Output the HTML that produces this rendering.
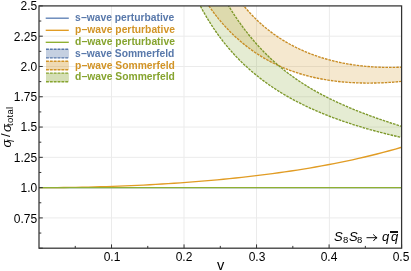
<!DOCTYPE html><html><head><meta charset="utf-8"><style>html,body{margin:0;padding:0;background:#fff}
body{width:411px;height:271px;position:relative;overflow:hidden;font-family:"Liberation Sans",sans-serif;color:#000}
.t{position:absolute;white-space:nowrap;line-height:1;will-change:transform}
.yl{font-size:12px;text-align:right;width:37.2px;left:0}
.xl{font-size:12px;text-align:center;width:40px}
.lg{font-size:10.3px;font-weight:bold;left:75.2px}
</style></head><body><svg width="411" height="271" viewBox="0 0 411 271" style="position:absolute;left:0;top:0"><defs><clipPath id="c"><rect x="39.0" y="5.9" width="362.6" height="242.29999999999998"/></clipPath></defs><g stroke="#ebebeb" stroke-width="1" fill="none"><line x1="111.5" x2="111.5" y1="5.9" y2="248.2"/><line x1="184.0" x2="184.0" y1="5.9" y2="248.2"/><line x1="256.5" x2="256.5" y1="5.9" y2="248.2"/><line x1="329.4" x2="329.4" y1="5.9" y2="248.2"/><line x1="39.0" x2="401.6" y1="217.91" y2="217.91"/><line x1="39.0" x2="401.6" y1="187.62" y2="187.62"/><line x1="39.0" x2="401.6" y1="157.34" y2="157.34"/><line x1="39.0" x2="401.6" y1="127.05" y2="127.05"/><line x1="39.0" x2="401.6" y1="96.76" y2="96.76"/><line x1="39.0" x2="401.6" y1="66.47" y2="66.47"/><line x1="39.0" x2="401.6" y1="36.19" y2="36.19"/></g><g clip-path="url(#c)" fill="none"><path d="M201.00,-6.26 L203.54,-2.14 L206.08,1.79 L208.62,5.55 L211.16,9.15 L213.70,12.60 L216.24,15.90 L218.77,19.06 L221.31,22.09 L223.85,25.00 L226.39,27.78 L228.93,30.46 L231.47,33.02 L234.01,35.48 L236.55,37.84 L239.09,40.11 L241.63,42.29 L244.17,44.38 L246.71,46.38 L249.25,48.31 L251.78,50.16 L254.32,51.93 L256.86,53.63 L259.40,55.27 L261.94,56.84 L264.48,58.34 L267.02,59.78 L269.56,61.17 L272.10,62.49 L274.64,63.76 L277.18,64.98 L279.72,66.14 L282.26,67.25 L284.79,68.31 L287.33,69.33 L289.87,70.30 L292.41,71.22 L294.95,72.10 L297.49,72.94 L300.03,73.74 L302.57,74.50 L305.11,75.22 L307.65,75.90 L310.19,76.54 L312.73,77.15 L315.27,77.73 L317.81,78.27 L320.34,78.77 L322.88,79.25 L325.42,79.69 L327.96,80.10 L330.50,80.49 L333.04,80.84 L335.58,81.16 L338.12,81.46 L340.66,81.73 L343.20,81.97 L345.74,82.19 L348.28,82.38 L350.82,82.55 L353.35,82.70 L355.89,82.82 L358.43,82.91 L360.97,82.99 L363.51,83.04 L366.05,83.07 L368.59,83.08 L371.13,83.06 L373.67,83.03 L376.21,82.98 L378.75,82.91 L381.29,82.82 L383.83,82.71 L386.36,82.58 L388.90,82.43 L391.44,82.27 L393.98,82.09 L396.52,81.89 L399.06,81.67 L401.60,81.44 L401.60,67.15 L399.50,67.23 L397.40,67.29 L395.30,67.34 L393.21,67.37 L391.11,67.39 L389.01,67.40 L386.91,67.39 L384.81,67.36 L382.71,67.31 L380.61,67.25 L378.51,67.17 L376.42,67.08 L374.32,66.97 L372.22,66.84 L370.12,66.69 L368.02,66.53 L365.92,66.34 L363.82,66.14 L361.72,65.92 L359.63,65.68 L357.53,65.43 L355.43,65.15 L353.33,64.85 L351.23,64.53 L349.13,64.19 L347.03,63.83 L344.93,63.45 L342.84,63.05 L340.74,62.63 L338.64,62.18 L336.54,61.71 L334.44,61.22 L332.34,60.70 L330.24,60.16 L328.14,59.60 L326.05,59.01 L323.95,58.39 L321.85,57.75 L319.75,57.08 L317.65,56.38 L315.55,55.65 L313.45,54.90 L311.35,54.12 L309.26,53.30 L307.16,52.46 L305.06,51.58 L302.96,50.67 L300.86,49.73 L298.76,48.75 L296.66,47.74 L294.56,46.69 L292.47,45.61 L290.37,44.48 L288.27,43.32 L286.17,42.11 L284.07,40.86 L281.97,39.57 L279.87,38.23 L277.77,36.84 L275.68,35.41 L273.58,33.92 L271.48,32.38 L269.38,30.79 L267.28,29.14 L265.18,27.43 L263.08,25.65 L260.98,23.81 L258.89,21.91 L256.79,19.93 L254.69,17.88 L252.59,15.75 L250.49,13.54 L248.39,11.24 L246.29,8.85 L244.19,6.37 L242.10,3.79 L240.00,1.10 L237.90,-1.70 L235.80,-4.62 Z" fill="#D29426" fill-opacity="0.22" stroke="none"/><path d="M192.50,-10.05 L195.15,-4.35 L197.79,1.05 L200.44,6.18 L203.09,11.06 L205.73,15.70 L208.38,20.13 L211.03,24.35 L213.67,28.39 L216.32,32.25 L218.97,35.94 L221.62,39.48 L224.26,42.88 L226.91,46.13 L229.56,49.27 L232.20,52.28 L234.85,55.18 L237.50,57.97 L240.14,60.66 L242.79,63.26 L245.44,65.76 L248.08,68.18 L250.73,70.52 L253.38,72.78 L256.02,74.97 L258.67,77.09 L261.32,79.14 L263.96,81.13 L266.61,83.06 L269.26,84.93 L271.91,86.75 L274.55,88.51 L277.20,90.23 L279.85,91.89 L282.49,93.51 L285.14,95.09 L287.79,96.62 L290.43,98.11 L293.08,99.56 L295.73,100.98 L298.37,102.36 L301.02,103.70 L303.67,105.01 L306.31,106.29 L308.96,107.53 L311.61,108.75 L314.25,109.94 L316.90,111.10 L319.55,112.23 L322.19,113.33 L324.84,114.41 L327.49,115.47 L330.14,116.50 L332.78,117.51 L335.43,118.49 L338.08,119.46 L340.72,120.40 L343.37,121.32 L346.02,122.23 L348.66,123.11 L351.31,123.97 L353.96,124.82 L356.60,125.65 L359.25,126.46 L361.90,127.26 L364.54,128.04 L367.19,128.80 L369.84,129.55 L372.48,130.28 L375.13,131.00 L377.78,131.70 L380.43,132.39 L383.07,133.07 L385.72,133.73 L388.37,134.38 L391.01,135.02 L393.66,135.64 L396.31,136.25 L398.95,136.86 L401.60,137.45 L401.60,126.42 L399.31,125.70 L397.02,124.97 L394.73,124.23 L392.44,123.49 L390.15,122.74 L387.86,121.98 L385.57,121.21 L383.28,120.43 L380.99,119.65 L378.70,118.85 L376.41,118.05 L374.12,117.23 L371.83,116.41 L369.54,115.57 L367.25,114.72 L364.96,113.86 L362.67,112.99 L360.38,112.10 L358.09,111.20 L355.80,110.29 L353.51,109.36 L351.22,108.42 L348.93,107.46 L346.64,106.48 L344.35,105.49 L342.06,104.47 L339.77,103.44 L337.48,102.39 L335.19,101.32 L332.90,100.23 L330.61,99.12 L328.32,97.99 L326.03,96.83 L323.74,95.64 L321.45,94.44 L319.16,93.20 L316.87,91.94 L314.58,90.65 L312.29,89.33 L310.01,87.97 L307.72,86.59 L305.43,85.17 L303.14,83.72 L300.85,82.23 L298.56,80.71 L296.27,79.14 L293.98,77.54 L291.69,75.89 L289.40,74.20 L287.11,72.46 L284.82,70.68 L282.53,68.85 L280.24,66.97 L277.95,65.03 L275.66,63.04 L273.37,61.00 L271.08,58.89 L268.79,56.73 L266.50,54.50 L264.21,52.20 L261.92,49.84 L259.63,47.40 L257.34,44.89 L255.05,42.30 L252.76,39.64 L250.47,36.89 L248.18,34.06 L245.89,31.13 L243.60,28.12 L241.31,25.01 L239.02,21.80 L236.73,18.49 L234.44,15.08 L232.15,11.55 L229.86,7.91 L227.57,4.16 L225.28,0.28 L222.99,-3.72 L220.70,-7.84 Z" fill="#86A42F" fill-opacity="0.21" stroke="none"/><line x1="39.0" x2="401.6" y1="187.62" y2="187.62" stroke="#5E81B5" stroke-width="1.3"/><path d="M39.00,187.62 L45.15,187.62 L51.29,187.59 L57.44,187.55 L63.58,187.49 L69.73,187.41 L75.87,187.31 L82.02,187.20 L88.17,187.07 L94.31,186.92 L100.46,186.75 L106.60,186.56 L112.75,186.36 L118.89,186.14 L125.04,185.90 L131.19,185.64 L137.33,185.36 L143.48,185.06 L149.62,184.74 L155.77,184.40 L161.92,184.04 L168.06,183.66 L174.21,183.26 L180.35,182.84 L186.50,182.40 L192.64,181.93 L198.79,181.44 L204.94,180.93 L211.08,180.40 L217.23,179.84 L223.37,179.25 L229.52,178.64 L235.66,178.01 L241.81,177.35 L247.96,176.66 L254.10,175.94 L260.25,175.19 L266.39,174.41 L272.54,173.61 L278.68,172.77 L284.83,171.90 L290.98,170.99 L297.12,170.05 L303.27,169.07 L309.41,168.06 L315.56,167.01 L321.71,165.91 L327.85,164.78 L334.00,163.60 L340.14,162.38 L346.29,161.11 L352.43,159.80 L358.58,158.43 L364.73,157.01 L370.87,155.53 L377.02,154.00 L383.16,152.41 L389.31,150.75 L395.45,149.03 L401.60,147.24" stroke="#E19C24" stroke-width="1.35"/><line x1="39.0" x2="401.6" y1="187.62" y2="187.62" stroke="#8FB032" stroke-width="1.4"/><path d="M201.00,-6.26 L203.54,-2.14 L206.08,1.79 L208.62,5.55 L211.16,9.15 L213.70,12.60 L216.24,15.90 L218.77,19.06 L221.31,22.09 L223.85,25.00 L226.39,27.78 L228.93,30.46 L231.47,33.02 L234.01,35.48 L236.55,37.84 L239.09,40.11 L241.63,42.29 L244.17,44.38 L246.71,46.38 L249.25,48.31 L251.78,50.16 L254.32,51.93 L256.86,53.63 L259.40,55.27 L261.94,56.84 L264.48,58.34 L267.02,59.78 L269.56,61.17 L272.10,62.49 L274.64,63.76 L277.18,64.98 L279.72,66.14 L282.26,67.25 L284.79,68.31 L287.33,69.33 L289.87,70.30 L292.41,71.22 L294.95,72.10 L297.49,72.94 L300.03,73.74 L302.57,74.50 L305.11,75.22 L307.65,75.90 L310.19,76.54 L312.73,77.15 L315.27,77.73 L317.81,78.27 L320.34,78.77 L322.88,79.25 L325.42,79.69 L327.96,80.10 L330.50,80.49 L333.04,80.84 L335.58,81.16 L338.12,81.46 L340.66,81.73 L343.20,81.97 L345.74,82.19 L348.28,82.38 L350.82,82.55 L353.35,82.70 L355.89,82.82 L358.43,82.91 L360.97,82.99 L363.51,83.04 L366.05,83.07 L368.59,83.08 L371.13,83.06 L373.67,83.03 L376.21,82.98 L378.75,82.91 L381.29,82.82 L383.83,82.71 L386.36,82.58 L388.90,82.43 L391.44,82.27 L393.98,82.09 L396.52,81.89 L399.06,81.67 L401.60,81.44" stroke="#C88C23" stroke-width="1.35" stroke-dasharray="2.6,1.0"/><path d="M235.80,-4.62 L237.90,-1.70 L240.00,1.10 L242.10,3.79 L244.19,6.37 L246.29,8.85 L248.39,11.24 L250.49,13.54 L252.59,15.75 L254.69,17.88 L256.79,19.93 L258.89,21.91 L260.98,23.81 L263.08,25.65 L265.18,27.43 L267.28,29.14 L269.38,30.79 L271.48,32.38 L273.58,33.92 L275.68,35.41 L277.77,36.84 L279.87,38.23 L281.97,39.57 L284.07,40.86 L286.17,42.11 L288.27,43.32 L290.37,44.48 L292.47,45.61 L294.56,46.69 L296.66,47.74 L298.76,48.75 L300.86,49.73 L302.96,50.67 L305.06,51.58 L307.16,52.46 L309.26,53.30 L311.35,54.12 L313.45,54.90 L315.55,55.65 L317.65,56.38 L319.75,57.08 L321.85,57.75 L323.95,58.39 L326.05,59.01 L328.14,59.60 L330.24,60.16 L332.34,60.70 L334.44,61.22 L336.54,61.71 L338.64,62.18 L340.74,62.63 L342.84,63.05 L344.93,63.45 L347.03,63.83 L349.13,64.19 L351.23,64.53 L353.33,64.85 L355.43,65.15 L357.53,65.43 L359.63,65.68 L361.72,65.92 L363.82,66.14 L365.92,66.34 L368.02,66.53 L370.12,66.69 L372.22,66.84 L374.32,66.97 L376.42,67.08 L378.51,67.17 L380.61,67.25 L382.71,67.31 L384.81,67.36 L386.91,67.39 L389.01,67.40 L391.11,67.39 L393.21,67.37 L395.30,67.34 L397.40,67.29 L399.50,67.23 L401.60,67.15" stroke="#C88C23" stroke-width="1.35" stroke-dasharray="2.6,1.0"/><path d="M192.50,-10.05 L195.15,-4.35 L197.79,1.05 L200.44,6.18 L203.09,11.06 L205.73,15.70 L208.38,20.13 L211.03,24.35 L213.67,28.39 L216.32,32.25 L218.97,35.94 L221.62,39.48 L224.26,42.88 L226.91,46.13 L229.56,49.27 L232.20,52.28 L234.85,55.18 L237.50,57.97 L240.14,60.66 L242.79,63.26 L245.44,65.76 L248.08,68.18 L250.73,70.52 L253.38,72.78 L256.02,74.97 L258.67,77.09 L261.32,79.14 L263.96,81.13 L266.61,83.06 L269.26,84.93 L271.91,86.75 L274.55,88.51 L277.20,90.23 L279.85,91.89 L282.49,93.51 L285.14,95.09 L287.79,96.62 L290.43,98.11 L293.08,99.56 L295.73,100.98 L298.37,102.36 L301.02,103.70 L303.67,105.01 L306.31,106.29 L308.96,107.53 L311.61,108.75 L314.25,109.94 L316.90,111.10 L319.55,112.23 L322.19,113.33 L324.84,114.41 L327.49,115.47 L330.14,116.50 L332.78,117.51 L335.43,118.49 L338.08,119.46 L340.72,120.40 L343.37,121.32 L346.02,122.23 L348.66,123.11 L351.31,123.97 L353.96,124.82 L356.60,125.65 L359.25,126.46 L361.90,127.26 L364.54,128.04 L367.19,128.80 L369.84,129.55 L372.48,130.28 L375.13,131.00 L377.78,131.70 L380.43,132.39 L383.07,133.07 L385.72,133.73 L388.37,134.38 L391.01,135.02 L393.66,135.64 L396.31,136.25 L398.95,136.86 L401.60,137.45" stroke="#7D982A" stroke-width="1.35" stroke-dasharray="2.6,1.0"/><path d="M220.70,-7.84 L222.99,-3.72 L225.28,0.28 L227.57,4.16 L229.86,7.91 L232.15,11.55 L234.44,15.08 L236.73,18.49 L239.02,21.80 L241.31,25.01 L243.60,28.12 L245.89,31.13 L248.18,34.06 L250.47,36.89 L252.76,39.64 L255.05,42.30 L257.34,44.89 L259.63,47.40 L261.92,49.84 L264.21,52.20 L266.50,54.50 L268.79,56.73 L271.08,58.89 L273.37,61.00 L275.66,63.04 L277.95,65.03 L280.24,66.97 L282.53,68.85 L284.82,70.68 L287.11,72.46 L289.40,74.20 L291.69,75.89 L293.98,77.54 L296.27,79.14 L298.56,80.71 L300.85,82.23 L303.14,83.72 L305.43,85.17 L307.72,86.59 L310.01,87.97 L312.29,89.33 L314.58,90.65 L316.87,91.94 L319.16,93.20 L321.45,94.44 L323.74,95.64 L326.03,96.83 L328.32,97.99 L330.61,99.12 L332.90,100.23 L335.19,101.32 L337.48,102.39 L339.77,103.44 L342.06,104.47 L344.35,105.49 L346.64,106.48 L348.93,107.46 L351.22,108.42 L353.51,109.36 L355.80,110.29 L358.09,111.20 L360.38,112.10 L362.67,112.99 L364.96,113.86 L367.25,114.72 L369.54,115.57 L371.83,116.41 L374.12,117.23 L376.41,118.05 L378.70,118.85 L380.99,119.65 L383.28,120.43 L385.57,121.21 L387.86,121.98 L390.15,122.74 L392.44,123.49 L394.73,124.23 L397.02,124.97 L399.31,125.70 L401.60,126.42" stroke="#7D982A" stroke-width="1.35" stroke-dasharray="2.6,1.0"/></g><g stroke="#333" stroke-width="1" fill="none"><line x1="75.26" x2="75.26" y1="248.2" y2="245.89999999999998"/><line x1="111.52" x2="111.52" y1="248.2" y2="244.39999999999998"/><line x1="147.78" x2="147.78" y1="248.2" y2="245.89999999999998"/><line x1="184.04" x2="184.04" y1="248.2" y2="244.39999999999998"/><line x1="220.30" x2="220.30" y1="248.2" y2="245.89999999999998"/><line x1="256.56" x2="256.56" y1="248.2" y2="244.39999999999998"/><line x1="292.82" x2="292.82" y1="248.2" y2="245.89999999999998"/><line x1="329.08" x2="329.08" y1="248.2" y2="244.39999999999998"/><line x1="365.34" x2="365.34" y1="248.2" y2="245.89999999999998"/><line x1="401.60" x2="401.60" y1="248.2" y2="244.39999999999998"/><line x1="39.0" x2="42.8" y1="248.20" y2="248.20"/><line x1="39.0" x2="41.3" y1="233.06" y2="233.06"/><line x1="39.0" x2="42.8" y1="217.91" y2="217.91"/><line x1="39.0" x2="41.3" y1="202.77" y2="202.77"/><line x1="39.0" x2="42.8" y1="187.62" y2="187.62"/><line x1="39.0" x2="41.3" y1="172.48" y2="172.48"/><line x1="39.0" x2="42.8" y1="157.34" y2="157.34"/><line x1="39.0" x2="41.3" y1="142.19" y2="142.19"/><line x1="39.0" x2="42.8" y1="127.05" y2="127.05"/><line x1="39.0" x2="41.3" y1="111.91" y2="111.91"/><line x1="39.0" x2="42.8" y1="96.76" y2="96.76"/><line x1="39.0" x2="41.3" y1="81.62" y2="81.62"/><line x1="39.0" x2="42.8" y1="66.47" y2="66.47"/><line x1="39.0" x2="41.3" y1="51.33" y2="51.33"/><line x1="39.0" x2="42.8" y1="36.19" y2="36.19"/><line x1="39.0" x2="41.3" y1="21.04" y2="21.04"/><line x1="39.0" x2="42.8" y1="5.90" y2="5.90"/></g><rect x="39.0" y="5.9" width="362.6" height="242.29999999999998" fill="none" stroke="#333" stroke-width="1.25"/><line x1="45.7" x2="68.8" y1="18.2" y2="18.2" stroke="#5E81B5" stroke-width="1.35"/><line x1="45.7" x2="68.8" y1="30.3" y2="30.3" stroke="#E19C24" stroke-width="1.35"/><line x1="45.7" x2="68.8" y1="42.3" y2="42.3" stroke="#8FB032" stroke-width="1.35"/><rect x="46" y="49.300000000000004" width="22.9" height="8.6" fill="#5878AA" fill-opacity="0.35"/><line x1="46" x2="68.9" y1="49.300000000000004" y2="49.300000000000004" stroke="#5878AA" stroke-width="1.4" stroke-dasharray="2.9,0.95"/><line x1="46" x2="68.9" y1="57.9" y2="57.9" stroke="#5878AA" stroke-width="1.4" stroke-dasharray="2.9,0.95"/><rect x="46" y="61.2" width="22.9" height="8.6" fill="#D29426" fill-opacity="0.35"/><line x1="46" x2="68.9" y1="61.2" y2="61.2" stroke="#D29426" stroke-width="1.4" stroke-dasharray="2.9,0.95"/><line x1="46" x2="68.9" y1="69.8" y2="69.8" stroke="#D29426" stroke-width="1.4" stroke-dasharray="2.9,0.95"/><rect x="46" y="73.10000000000001" width="22.9" height="8.6" fill="#86A42F" fill-opacity="0.35"/><line x1="46" x2="68.9" y1="73.10000000000001" y2="73.10000000000001" stroke="#86A42F" stroke-width="1.4" stroke-dasharray="2.9,0.95"/><line x1="46" x2="68.9" y1="81.7" y2="81.7" stroke="#86A42F" stroke-width="1.4" stroke-dasharray="2.9,0.95"/></svg><div class="t yl" style="top:0.04px">2.5</div><div class="t yl" style="top:30.93px">2.25</div><div class="t yl" style="top:60.61px">2.0</div><div class="t yl" style="top:90.90px">1.75</div><div class="t yl" style="top:121.19px">1.5</div><div class="t yl" style="top:152.08px">1.25</div><div class="t yl" style="top:181.76px">1.0</div><div class="t yl" style="top:212.65px">0.75</div><div class="t xl" style="left:91.52px;top:251.3px">0.1</div><div class="t xl" style="left:164.04px;top:251.3px">0.2</div><div class="t xl" style="left:236.56px;top:251.3px">0.3</div><div class="t xl" style="left:309.08px;top:251.3px">0.4</div><div class="t xl" style="left:381.20px;top:251.3px">0.5</div><div class="t lg" style="top:12.70px;color:#5878AA">s−wave perturbative</div><div class="t lg" style="top:25.00px;color:#D29426">p−wave perturbative</div><div class="t lg" style="top:37.00px;color:#86A42F">d−wave perturbative</div><div class="t lg" style="top:48.80px;color:#5878AA">s−wave Sommerfeld</div><div class="t lg" style="top:60.60px;color:#D29426">p−wave Sommerfeld</div><div class="t lg" style="top:72.40px;color:#86A42F">d−wave Sommerfeld</div><div class="t" style="left:217.4px;top:258.2px;font-size:14.6px;transform:scaleX(0.95);transform-origin:0 0">v</div><div class="t" style="left:0;top:148px;width:60px;height:16px;transform-origin:0 0;transform:rotate(-90deg)"><span style="position:absolute;left:0.60px;top:-0.50px;font-size:13px;line-height:1;font-style:italic;">σ</span><span style="position:absolute;left:6.10px;top:5.56px;font-size:9.5px;line-height:1;font-style:italic;">l</span><span style="position:absolute;left:11.10px;top:-0.90px;font-size:13px;line-height:1;">/</span><span style="position:absolute;left:16.10px;top:-0.50px;font-size:13px;line-height:1;font-style:italic;">σ</span><span style="position:absolute;left:22.00px;top:5.16px;font-size:9.5px;line-height:1;letter-spacing:0.28px;">total</span></div><div class="t" style="left:334.20px;top:229.90px;font-size:13px;font-style:italic;">S</div><div class="t" style="left:342.60px;top:234.96px;font-size:9.5px;">8</div><div class="t" style="left:348.60px;top:229.90px;font-size:13px;font-style:italic;">S</div><div class="t" style="left:357.20px;top:234.96px;font-size:9.5px;">8</div><svg width="16" height="10" viewBox="364 233 16 10" style="position:absolute;left:364px;top:233px"><path d="M366.9,237.7 L376.6,237.7 M373.6,234.7 Q374.8,236.9 377.1,237.7 Q374.8,238.5 373.6,240.7" fill="none" stroke="#000" stroke-width="0.95" stroke-linecap="round" stroke-linejoin="round"/></svg><div class="t" style="left:381.80px;top:229.80px;font-size:13px;font-style:italic;">q</div><div class="t" style="left:391.00px;top:229.80px;font-size:13px;font-style:italic;">q</div><div style="position:absolute;left:390.3px;top:231.3px;width:8.1px;height:1.3px;background:#111"></div></body></html>
